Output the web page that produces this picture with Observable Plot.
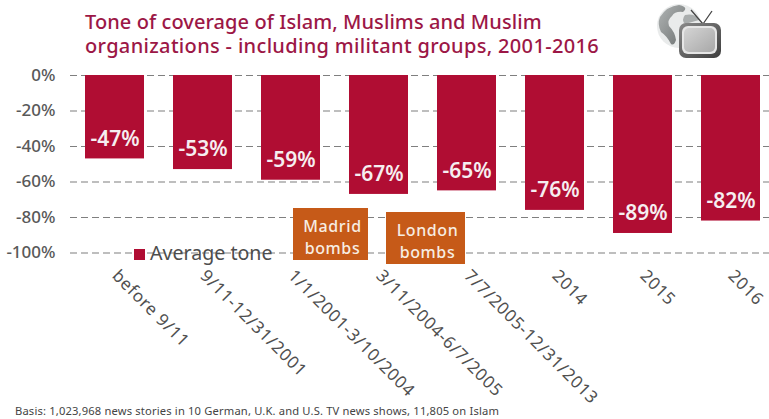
<!DOCTYPE html>
<html>
<head>
<meta charset="utf-8">
<script src="https://cdn.jsdelivr.net/npm/d3@7"></script>
<script src="https://cdn.jsdelivr.net/npm/@observablehq/plot@0.6"></script>
<style>
  html, body { margin: 0; padding: 0; background: #fff; }
  body { width: 769px; height: 419px; position: relative; overflow: hidden; font-family: "Noto Sans", sans-serif; }
  #title { position: relative; height: 62px; box-sizing: border-box; padding: 10px 0 0 85px; color: #9c1746; font-size: 20px; line-height: 24px; letter-spacing: 0.33px; font-weight: 500; white-space: nowrap; }
  #title span { letter-spacing: 0.08px; }
  #chart svg { display: block; overflow: hidden; }
  #caption { position: absolute; left: 15px; top: 403px; color: #444; font-size: 11.2px; letter-spacing: 0.16px; white-space: nowrap; }
  .note { position: absolute; box-sizing: border-box; background: #c65a18; color: #f7ede2; font-size: 16px; font-weight: 500; letter-spacing: 0.6px; line-height: 22px; text-align: center; padding: 7px 0 0 4px; }
  #legend { position: absolute; left: 134px; top: 241px; color: #4d4d4d; font-size: 19.6px; line-height: 24px; white-space: nowrap; }
  #legend i { display: inline-block; width: 11px; height: 11px; background: #b00d33; margin-right: 5px; }
  #logo { position: absolute; left: 655px; top: 2px; }
</style>
</head>
<body>
<div id="title"><span>Tone of coverage of Islam, Muslims and Muslim</span><br>organizations - including militant groups, 2001-2016</div>
<svg id="logo" width="70" height="58" viewBox="0 0 70 58">
  <defs>
    <linearGradient id="screen" x1="0" y1="0" x2="1" y2="1"><stop offset="0" stop-color="#d4d4d4"/><stop offset="1" stop-color="#a8a8a8"/></linearGradient>
    <linearGradient id="case" x1="0" y1="0" x2="1" y2="1"><stop offset="0" stop-color="#8a8a8a"/><stop offset="1" stop-color="#3d3d3d"/></linearGradient>
    <linearGradient id="land" x1="0" y1="0" x2="1" y2="1"><stop offset="0" stop-color="#b0b4b4"/><stop offset="1" stop-color="#6f7373"/></linearGradient>
  </defs>
  <circle cx="24" cy="24" r="22" fill="#e9ebeb"/>
  <path d="M5 15 Q12 4 24 3 Q34 5 28 10 Q20 9 17 14 Q12 18 14 24 Q20 30 21 38 Q19 44 16 42 Q12 34 6 30 Q2 22 5 15Z" fill="url(#land)"/>
  <path d="M30 13 Q40 11 44 18 L30 22 Q26 18 30 13Z" fill="#a9adad"/>
  <path d="M48 22 L36 8 M48 22 L57 9" stroke="#444" stroke-width="1.3" fill="none"/>
  <rect x="24" y="21" width="42" height="35" rx="7" fill="url(#case)"/>
  <rect x="27" y="24" width="35" height="28" rx="6" fill="#e6e6e6"/>
  <rect x="29" y="26" width="31" height="24" rx="5" fill="url(#screen)"/>
</svg>
<div id="chart"></div>
<div id="legend"><i></i>Average tone</div>
<div class="note" style="left:293px;top:208px;width:75px;height:52px">Madrid<br>bombs</div>
<div class="note" style="left:386px;top:212px;width:79px;height:52px">London<br>bombs</div>
<div id="caption">Basis: 1,023,968 news stories in 10 German, U.K. and U.S. TV news shows, 11,805 on Islam</div>
<script>
// Average tone per period, in percent
const periods = ["before 9/11", "9/11-12/31/2001", "1/1/2001-3/10/2004", "3/11/2004-6/7/2005", "7/7/2005-12/31/2013", "2014", "2015", "2016"];
const tone = [-47, -53, -59, -67, -65, -76, -89, -82];
const yTicks = [0, -20, -40, -60, -80, -100];

const rows = periods.map((period, i) => ({period, value: tone[i]}));
const grey = "#595959";

const chart = Plot.plot({
  width: 769,
  height: 357,
  marginTop: 13,
  marginLeft: 70,
  marginRight: 0,
  marginBottom: 166.5,
  style: {background: "transparent", fontFamily: '"Noto Sans", sans-serif'},
  x: {domain: periods, range: [70.5, 774.5], paddingInner: 0.33, paddingOuter: 0.165},
  y: {domain: [-100, 0]},
  marks: [
    Plot.ruleY(yTicks, {stroke: "#7f7f7f", strokeWidth: 1.2, strokeDasharray: "7 4"}),
    Plot.ruleX([periods[0]], {x: () => 70.5, y1: -100, y2: 0, stroke: "#8c8c8c", strokeWidth: 1.2}),
    Plot.barY(rows, {x: "period", y: "value", fill: "#b00d33"}),
    Plot.text(rows, {x: "period", y: "value", text: d => `${d.value}%`, dy: -20, fill: "#f6eef0", fontSize: 21, fontWeight: 600}),
    Plot.axisY({ticks: yTicks, tickFormat: d => `${d}%`, tickSize: 0, tickPadding: 15, fontSize: 17, fontWeight: 500, color: grey, label: null}),
    Plot.axisX({tickRotate: 45, tickSize: 0, tickPadding: 20, fontSize: 17, color: "#505050", label: null, textAnchor: "start"})
  ]
});

// Open up the period labels a little
for (const label of chart.querySelectorAll("text")) {
  if (periods.includes(label.textContent)) label.style.letterSpacing = "0.75px";
}
document.getElementById("chart").append(chart);
</script>
</body>
</html>
